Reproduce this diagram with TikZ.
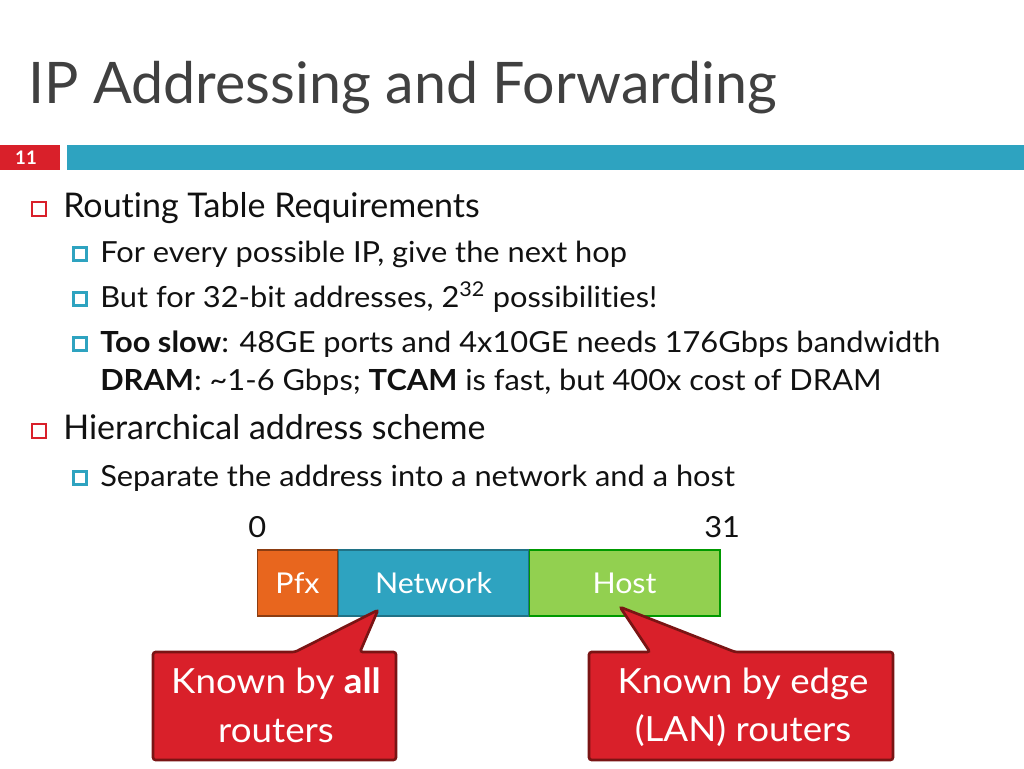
\documentclass[tikz,border=0pt]{standalone}
\usepackage{fontspec}
\setmainfont{Lato}[Ligatures=NoCommon]
\newfontfamily\widef{Lato}[Ligatures=NoCommon,FakeStretch=1.06]
\definecolor{tealc}{HTML}{2EA3C0}
\definecolor{redc}{HTML}{D9202A}
\definecolor{dred}{HTML}{7A1414}
\definecolor{orc}{HTML}{E8661E}
\definecolor{grc}{HTML}{92D050}
\definecolor{txt}{HTML}{111111}
\begin{document}
\begin{tikzpicture}[x=0.75pt,y=-0.75pt,
  lone/.style={anchor=base west,inner sep=0,font=\fontsize{25.5}{30}\selectfont,text=txt},
  ltwo/.style={anchor=base west,inner sep=0,font=\widef\fontsize{21.8}{25}\selectfont,text=txt},
  bone/.style={draw=redc,line width=1.3pt,fill=white,minimum size=10pt,inner sep=0},
  btwo/.style={draw=tealc,line width=2.6pt,fill=white,minimum size=9.5pt,inner sep=0},
  seg/.style={minimum height=49.5pt,inner sep=0,text=white,font=\widef\fontsize{21.5}{25}\selectfont,line width=1pt},
  callout/.style={fill=redc,draw=dred,line width=2pt,rounded corners=2pt},
  ctext/.style={text=white,font=\widef\fontsize{26}{30}\selectfont,align=center}]
\useasboundingbox (0,0) rectangle (1024,768);
\node[anchor=base west,inner sep=0,font=\fontsize{43}{50}\selectfont,text=black!75] (title) at (28,103) {IP Addressing and Forwarding};
\fill[redc] (0,145) rectangle (60,170);
\node[text=white,font=\bfseries\fontsize{14}{16}\selectfont] (num) at (26,157.5) {11};
\fill[tealc] (67,145) rectangle (1024,170);
\node[bone] (b1) at (39,209) {};
\node[lone] (t1) at (63,217) {Routing Table Requirements};
\node[btwo] (b2) at (80,254) {};
\node[ltwo] (t2) at (100,262) {For every possible IP, give the next hop};
\node[btwo] (b3) at (80,299) {};
\node[ltwo] (t3) at (100,307) {But for 32-bit addresses, 2\textsuperscript{32} possibilities!};
\node[btwo] (b4) at (80,344) {};
\node[ltwo] (t4) at (100,352) {\textbf{Too slow}: 48GE ports and 4x10GE needs 176Gbps bandwidth};
\node[ltwo] (t5) at (100,390) {\textbf{DRAM}: \textasciitilde 1-6 Gbps; \textbf{TCAM} is fast, but 400x cost of DRAM};
\node[bone] (b5) at (39,431) {};
\node[lone] (t6) at (63,439) {Hierarchical address scheme};
\node[btwo] (b6) at (80,478) {};
\node[ltwo] (t7) at (100,486) {Separate the address into a network and a host};
\node[ltwo] (z) at (248,537) {0};
\node[ltwo] (e) at (704,537) {31};
\node[seg,fill=orc,draw=orc!60!black,minimum width=60pt] (pfx) at (297.5,583) {Pfx};
\node[seg,fill=tealc,draw=tealc!70!black,minimum width=143pt] (net) at (433.5,583) {Network};
\node[seg,fill=grc,draw=green!60!black,minimum width=143pt] (host) at (624.5,583) {Host};
\coordinate (tipl) at (378,610);
\coordinate (tipr) at (620,607);
\draw[callout] (153,652) -- (295,652) -- (tipl) -- (360,652) -- (396,652) -- (396,760) -- (153,760) -- cycle;
\draw[callout] (589,652) -- (650,652) -- (tipr) -- (735,652) -- (893,652) -- (893,760) -- (589,760) -- cycle;
\node[ctext] (c1) at (276,684) {Known by \textbf{all}};
\node[ctext] (c2) at (276,731) {routers};
\node[ctext] (c3) at (743,684) {Known by edge};
\node[ctext] (c4) at (743,731) {(LAN) routers};
\end{tikzpicture}
\end{document}
